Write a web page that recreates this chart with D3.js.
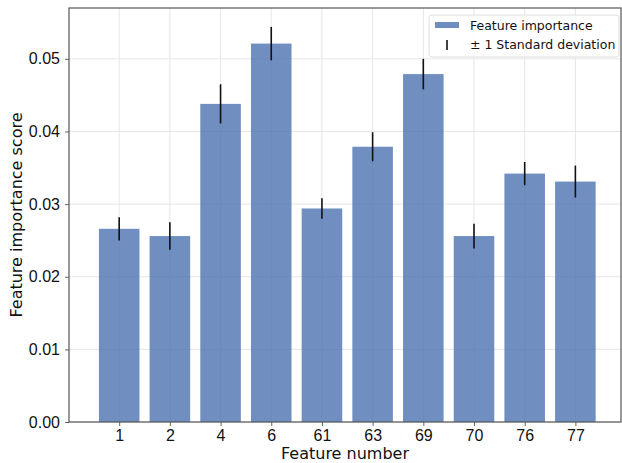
<!DOCTYPE html>
<html>
<head>
<meta charset="utf-8">
<script src="https://cdn.jsdelivr.net/npm/d3@7"></script>
<style>
    body { margin: 0; background: #fff; }
    svg { font-family: "DejaVu Sans", sans-serif; }
</style>
</head>
<body>
<div id="chart"></div>
<script>
// Feature importance values
const features = ['1', '2', '4', '6', '61', '63', '69', '70', '76', '77'];
const importance = [0.0266, 0.0256, 0.0438, 0.0521, 0.0294, 0.0379, 0.0479, 0.0256, 0.0342, 0.0331];
const stdDev = [0.0016, 0.0019, 0.0027, 0.0023, 0.0014, 0.0020, 0.0021, 0.0017, 0.0016, 0.0022];
const yTicks = [0, 0.01, 0.02, 0.03, 0.04, 0.05];

const width = 622, height = 463;
const margin = { top: 8, right: 1, bottom: 41, left: 69 };

const svg = d3.select('#chart').append('svg')
    .attr('width', width)
    .attr('height', height);

const x = d3.scaleLinear()
    .domain([-0.99, 9.9])
    .range([margin.left, width - margin.right]);

const y = d3.scaleLinear()
    .domain([0, 0.057])
    .range([height - margin.bottom, margin.top]);

const barW = x(0.4) - x(-0.4);

// Grid
const grid = svg.append('g').attr('stroke', '#e6e6e6').attr('stroke-width', 1);
grid.selectAll('.gy').data(yTicks).join('line')
    .attr('x1', margin.left).attr('x2', width - margin.right)
    .attr('y1', d => y(d)).attr('y2', d => y(d));
grid.selectAll('.gx').data(features).join('line')
    .attr('x1', (d, i) => x(i)).attr('x2', (d, i) => x(i))
    .attr('y1', margin.top).attr('y2', height - margin.bottom);

// Bars
svg.append('g').selectAll('rect')
    .data(importance)
    .join('rect')
    .attr('x', (d, i) => x(i) - barW / 2)
    .attr('y', d => y(d))
    .attr('width', barW)
    .attr('height', d => y(0) - y(d))
    .attr('fill', '#4c72b0')
    .attr('fill-opacity', 0.8);

// Error bars
svg.append('g').selectAll('line')
    .data(importance)
    .join('line')
    .attr('x1', (d, i) => x(i)).attr('x2', (d, i) => x(i))
    .attr('y1', (d, i) => y(d + stdDev[i]))
    .attr('y2', (d, i) => y(d - stdDev[i]))
    .attr('stroke', '#111')
    .attr('stroke-width', 1.6);

// Axes
const xAxis = svg.append('g')
    .attr('transform', `translate(0,${height - margin.bottom})`)
    .call(d3.axisBottom(x).tickValues(d3.range(features.length)).tickFormat(i => features[i]).tickSize(4).tickPadding(4));
const yAxis = svg.append('g')
    .attr('transform', `translate(${margin.left},0)`)
    .call(d3.axisLeft(y).tickValues(yTicks).tickFormat(d3.format('.2f')).tickSize(4).tickPadding(5));

[xAxis, yAxis].forEach(a => {
    a.select('.domain').remove();
    a.selectAll('.tick line').attr('stroke', '#666');
    a.selectAll('.tick text').attr('fill', '#111').style('font-size', '16px');
});

// Frame
svg.append('rect')
    .attr('x', margin.left).attr('y', margin.top)
    .attr('width', width - margin.right - margin.left)
    .attr('height', height - margin.bottom - margin.top)
    .attr('fill', 'none')
    .attr('stroke', '#555')
    .attr('stroke-width', 1.2);

// Axis labels
svg.append('text')
    .attr('x', (margin.left + width - margin.right) / 2)
    .attr('y', 459)
    .attr('text-anchor', 'middle')
    .style('font-size', '16px')
    .attr('fill', '#111')
    .text('Feature number');

svg.append('text')
    .attr('transform', `translate(22,${(margin.top + height - margin.bottom) / 2}) rotate(-90)`)
    .attr('text-anchor', 'middle')
    .style('font-size', '16px')
    .attr('fill', '#111')
    .text('Feature importance score');

// Legend
const legend = svg.append('g').attr('transform', 'translate(429,15)');
legend.append('rect')
    .attr('width', 190).attr('height', 42)
    .attr('rx', 3)
    .attr('fill', 'rgba(255,255,255,0.85)')
    .attr('stroke', '#ddd');
legend.append('rect')
    .attr('x', 6).attr('y', 7).attr('width', 24).attr('height', 6)
    .attr('fill', '#4c72b0').attr('fill-opacity', 0.8);
legend.append('line')
    .attr('x1', 18).attr('x2', 18).attr('y1', 25).attr('y2', 35)
    .attr('stroke', '#111').attr('stroke-width', 1.6);
legend.append('text')
    .attr('x', 41).attr('y', 15)
    .style('font-size', '12.5px').attr('fill', '#111')
    .text('Feature importance');
legend.append('text')
    .attr('x', 41).attr('y', 34)
    .style('font-size', '12.5px').attr('fill', '#111')
    .text('± 1 Standard deviation');
</script>
</body>
</html>
